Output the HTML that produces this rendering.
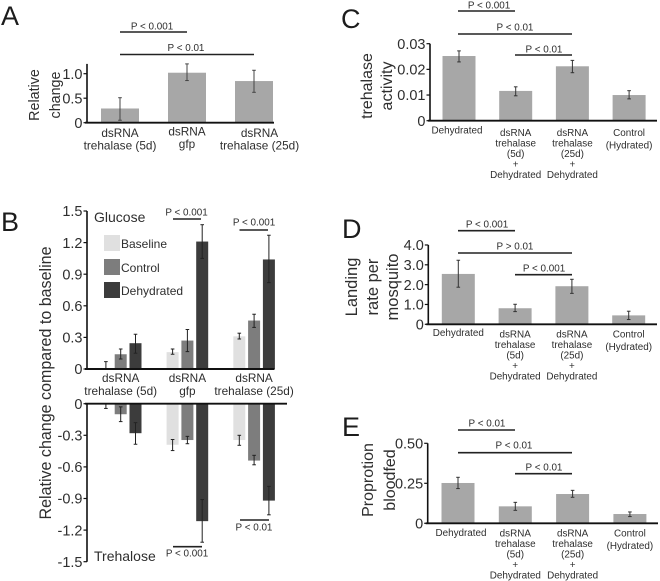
<!DOCTYPE html>
<html lang="en">
<head>
<meta charset="utf-8">
<title>Trehalase figure</title>
<style>
html,body{margin:0;padding:0;background:#fff;}
svg{display:block;filter:blur(0.3px);}
text{font-family:"Liberation Sans",sans-serif;fill:#2e2e2e;}
.letter{font-size:27px;fill:#1c1c1c;}
.title{font-size:16.5px;text-anchor:middle;}
.sig{font-size:9.9px;text-anchor:middle;}
.leg{font-size:12px;}
.sub{font-size:14px;}
</style>
</head>
<body>
<svg id="fig" xmlns="http://www.w3.org/2000/svg" width="660" height="581" viewBox="0 0 660 581">
<rect x="0" y="0" width="660" height="581" fill="#fff"/>
<g>
<text class="letter" x="1" y="25">A</text>
<text class="letter" x="1" y="231">B</text>
<text class="letter" x="341" y="28">C</text>
<text class="letter" x="342" y="238">D</text>
<text class="letter" x="342" y="436">E</text>
</g>
<g>
<text class="title" style="font-size:14.3px" transform="translate(39,95) rotate(-90)">Relative</text>
<text class="title" style="font-size:14.3px" transform="translate(60,95) rotate(-90)">change</text>
<text class="title" textLength="273" lengthAdjust="spacingAndGlyphs" style="font-size:16.5px" transform="translate(51,383) rotate(-90)">Relative change compared to baseline</text>
<text class="title" style="font-size:16px" transform="translate(372,86) rotate(-90)">trehalase</text>
<text class="title" style="font-size:16px" transform="translate(392,86) rotate(-90)">activity</text>
<text class="title" transform="translate(357,287) rotate(-90)">Landing</text>
<text class="title" transform="translate(378,287) rotate(-90)">rate per</text>
<text class="title" transform="translate(398,287) rotate(-90)">mosquito</text>
<text class="title" style="font-size:16px" transform="translate(373,480) rotate(-90)">Proprotion</text>
<text class="title" style="font-size:16px" transform="translate(395,480) rotate(-90)">bloodfed</text>
</g>
<g>
<text class="sub" x="94" y="222">Glucose</text>
<text class="sub" x="94" y="561">Trehalose</text>
<rect x="104" y="235" width="16" height="16" fill="#e0e0e0"/>
<text class="leg" x="121" y="248">Baseline</text>
<rect x="104" y="259" width="16" height="16" fill="#7d7d7d"/>
<text class="leg" x="121" y="272">Control</text>
<rect x="104" y="282" width="16" height="16" fill="#3c3c3c"/>
<text class="leg" x="121" y="295">Dehydrated</text>
</g>
<g id="sig" stroke="none">
<line x1="120" x2="187" y1="32" y2="32" stroke="#222" stroke-width="1.6"/>
<text class="sig" x="152" y="29.5">P &lt; 0.001</text>
<line x1="120" x2="254" y1="54.5" y2="54.5" stroke="#222" stroke-width="1.6"/>
<text class="sig" x="186" y="51">P &lt; 0.01</text>
<line x1="173" x2="201" y1="219" y2="219" stroke="#222" stroke-width="1.6"/>
<text class="sig" x="186.5" y="215.5">P &lt; 0.001</text>
<line x1="239.500" x2="268" y1="230" y2="230" stroke="#222" stroke-width="1.6"/>
<text class="sig" x="254" y="225.500">P &lt; 0.001</text>
<line x1="173" x2="202" y1="546.700" y2="546.700" stroke="#222" stroke-width="1.6"/>
<text class="sig" x="187" y="556.500">P &lt; 0.001</text>
<line x1="240" x2="269" y1="520" y2="520" stroke="#222" stroke-width="1.6"/>
<text class="sig" x="254" y="530.500">P &lt; 0.01</text>
<line x1="458" x2="515" y1="11" y2="11" stroke="#222" stroke-width="1.6"/>
<text class="sig" x="489" y="8.5">P &lt; 0.001</text>
<line x1="458" x2="572" y1="34" y2="34" stroke="#222" stroke-width="1.6"/>
<text class="sig" x="515" y="30.5">P &lt; 0.01</text>
<line x1="515" x2="572" y1="55" y2="55" stroke="#222" stroke-width="1.6"/>
<text class="sig" x="544" y="52.5">P &lt; 0.01</text>
<line x1="458" x2="515" y1="230.700" y2="230.700" stroke="#222" stroke-width="1.6"/>
<text class="sig" x="487" y="227.500">P &lt; 0.001</text>
<line x1="458" x2="572" y1="253" y2="253" stroke="#222" stroke-width="1.6"/>
<text class="sig" x="515" y="249.500">P &gt; 0.01</text>
<line x1="515" x2="572" y1="274.700" y2="274.700" stroke="#222" stroke-width="1.6"/>
<text class="sig" x="544" y="271.500">P &lt; 0.001</text>
<line x1="458" x2="515" y1="430" y2="430" stroke="#222" stroke-width="1.6"/>
<text class="sig" x="487" y="426.500">P &lt; 0.01</text>
<line x1="458" x2="572" y1="452.700" y2="452.700" stroke="#222" stroke-width="1.6"/>
<text class="sig" x="514" y="448.500">P &lt; 0.01</text>
<line x1="515" x2="572" y1="473.700" y2="473.700" stroke="#222" stroke-width="1.6"/>
<text class="sig" x="544" y="470.500">P &lt; 0.01</text>
</g>
</svg>
<script>
// Panel A
const panelACategories = [["dsRNA","trehalase (5d)"],["dsRNA","gfp"],["dsRNA","trehalase (25d)"]];
const panelAValues = [0.29,1.02,0.85];
const panelAErrHigh = [0.51,1.2,1.07];
const panelAErrLow = [0.05,0.86,0.62];
const panelATicks = ["0","0.5","1.0"];
// Panel B
const panelBCategories = [["dsRNA","trehalase (5d)"],["dsRNA","gfp"],["dsRNA","trehalase (25d)"]];
const panelBSeries = ["baseline","control","dehydrated"];
const glucoseBaseline = [0,0.16,0.31];
const glucoseControl = [0.14,0.27,0.46];
const glucoseDehydrated = [0.245,1.21,1.04];
const glucoseBaselineHigh = [0.07,0.19,0.34];
const glucoseBaselineLow = [0,0.14,0.285];
const glucoseControlHigh = [0.19,0.375,0.52];
const glucoseControlLow = [0.095,0.165,0.395];
const glucoseDehydratedHigh = [0.33,1.37,1.27];
const glucoseDehydratedLow = [0.15,1.05,0.82];
const trehaloseBaseline = [0,-0.39,-0.345];
const trehaloseControl = [-0.1,-0.345,-0.54];
const trehaloseDehydrated = [-0.28,-1.115,-0.92];
const trehaloseBaselineHigh = [0,-0.34,-0.3];
const trehaloseBaselineLow = [-0.045,-0.445,-0.395];
const trehaloseControlHigh = [-0.03,-0.31,-0.49];
const trehaloseControlLow = [-0.17,-0.38,-0.58];
const trehaloseDehydratedHigh = [-0.18,-0.91,-0.785];
const trehaloseDehydratedLow = [-0.385,-1.315,-1.055];
const glucoseTicks = ["0","0.3","0.6","0.9","1.2","1.5"];
const trehaloseTicks = ["0","-0.3","-0.6","-0.9","-1.2","-1.5"];
// Panels C-E
const rightCategories = [["Dehydrated"],["dsRNA","trehalase","(5d)","+","Dehydrated"],["dsRNA","trehalase","(25d)","+","Dehydrated"],["Control","(Hydrated)"]];
const panelCValues = [0.0252,0.0116,0.0212,0.0100];
const panelCErrHigh = [0.0272,0.0132,0.0235,0.0117];
const panelCErrLow = [0.0229,0.0097,0.0187,0.0085];
const panelCTicks = ["0","0.01","0.02","0.03"];
const panelDValues = [2.54,0.81,1.92,0.45];
const panelDErrHigh = [3.23,1.01,2.27,0.66];
const panelDErrLow = [1.87,0.64,1.56,0.24];
const panelDTicks = ["0","1.0","2.0","3.0","4.0"];
const panelEValues = [0.252,0.106,0.183,0.058];
const panelEErrHigh = [0.2875,0.131,0.206,0.071];
const panelEErrLow = [0.217,0.081,0.1625,0.042];
const panelETicks = ["0","0.25","0.50"];

const NS = "http://www.w3.org/2000/svg";
const fig = document.getElementById("fig");

function mk(tag, geometry, name, parent) {
  const el = document.createElementNS(NS, tag);
  Object.keys(geometry).forEach(function (k) { el.setAttribute(k, geometry[k]); });
  
  
  (parent || fig).appendChild(el);
  return el;
}
function label(str, x, y, size, anchor, name, parent) {
  const el = mk("text", {x: x, y: y, "font-size": size, "text-anchor": anchor}, name, parent);
  el.textContent = str;
  return el;
}
function linearY(zero, pxPerUnit) {
  return function (v) { return zero - v * pxPerUnit; };
}
function drawYAxis(o) {
  const g = mk("g", {}, o.name + "-y-axis");
  mk("line", {x1: o.x, x2: o.x, y1: o.y(o.axisTop), y2: o.y(o.axisBottom), stroke: "#111", "stroke-width": 1.6}, o.name + "-y-axis-line", g);
  o.ticks.forEach(function (t) {
    const v = Number(t);
    mk("line", {x1: o.x - 3.5, x2: o.x, y1: o.y(v), y2: o.y(v), stroke: "#111", "stroke-width": 1.2}, o.name + "-y-tick", g);
    label(t, o.x - 4.5, o.y(v) + 5.2, o.tickSize, "end", o.name + "-y-tick-label", g);
  });
}
function drawXAxis(o) {
  mk("line", {x1: o.x - 2, x2: o.xEnd, y1: o.y(0), y2: o.y(0), stroke: "#111", "stroke-width": 1.9}, o.name + "-x-axis-line");
}
function drawBars(o) {
  const g = mk("g", {}, o.name + "-bars");
  o.values.forEach(function (v, i) {
    const cx = o.cx(i);
    const top = Math.min(o.y(v), o.y(0));
    const h = Math.abs(o.y(v) - o.y(0));
    mk("rect", {x: cx - o.barW / 2, y: top, width: o.barW, height: h, fill: o.fill}, o.name + "-bar-" + i, g);
    const hi = o.y(o.high[i]), lo = o.y(o.low[i]);
    mk("line", {x1: cx, x2: cx, y1: hi, y2: lo, stroke: o.err, "stroke-width": 1}, o.name + "-error-bar-" + i, g);
    mk("line", {x1: cx - 1.8, x2: cx + 1.8, y1: hi, y2: hi, stroke: o.err, "stroke-width": 1}, o.name + "-error-cap-high-" + i, g);
    mk("line", {x1: cx - 1.8, x2: cx + 1.8, y1: lo, y2: lo, stroke: o.err, "stroke-width": 1}, o.name + "-error-cap-low-" + i, g);
  });
}
function drawLabels(categories, xFor, baselineFor, size, name) {
  const g = mk("g", {}, name + "-category-labels");
  categories.forEach(function (lines, i) {
    lines.forEach(function (s, j) {
      label(s, xFor(i), baselineFor(i, j, lines.length), size, "middle", name + "-category-label", g);
    });
  });
}

/* ---------- Panel A ---------- */
(function () {
  const y = linearY(122.7, 49);
  const cx = function (i) { return 120 + i * 67; };
  drawBars({name: "panel-a", values: panelAValues, high: panelAErrHigh, low: panelAErrLow, y: y, cx: cx, barW: 38, fill: "#a7a7a7", err: "#444"});
  drawYAxis({name: "panel-a", x: 87, y: y, axisTop: 1.2, axisBottom: 0, ticks: panelATicks, tickSize: 14.5});
  drawXAxis({name: "panel-a", x: 87, xEnd: 274, y: y});
  drawLabels(panelACategories, function (i) { return cx(i) + (i === 2 ? 5.5 : 0); },
    function (i, j) { return (i === 1 ? 135.5 : 137) + j * 12.5; }, 11.8, "panel-a");
})();

/* ---------- Panel B ---------- */
(function () {
  const groupCx = function (g) { return 120.7 + g * 66.7; };
  const slot = function (s) { return (s - 1) * 14.8; };
  const fills = ["#e0e0e0", "#7d7d7d", "#3c3c3c"];
  const yG = linearY(369, 105.33);
  const yT = linearY(403.7, 105.33);
  const gVals = [glucoseBaseline, glucoseControl, glucoseDehydrated];
  const gHigh = [glucoseBaselineHigh, glucoseControlHigh, glucoseDehydratedHigh];
  const gLow = [glucoseBaselineLow, glucoseControlLow, glucoseDehydratedLow];
  const tVals = [trehaloseBaseline, trehaloseControl, trehaloseDehydrated];
  const tHigh = [trehaloseBaselineHigh, trehaloseControlHigh, trehaloseDehydratedHigh];
  const tLow = [trehaloseBaselineLow, trehaloseControlLow, trehaloseDehydratedLow];
  panelBSeries.forEach(function (series, s) {
    const cx = function (g) { return groupCx(g) + slot(s); };
    drawBars({name: "glucose-" + series, values: gVals[s], high: gHigh[s], low: gLow[s], y: yG, cx: cx, barW: 12, fill: fills[s], err: "#222"});
    drawBars({name: "trehalose-" + series, values: tVals[s], high: tHigh[s], low: tLow[s], y: yT, cx: cx, barW: 12, fill: fills[s], err: "#222"});
  });
  drawYAxis({name: "glucose", x: 87, y: yG, axisTop: 1.5, axisBottom: 0, ticks: glucoseTicks, tickSize: 14.5});
  drawYAxis({name: "trehalose", x: 87, y: yT, axisTop: 0, axisBottom: -1.5, ticks: trehaloseTicks, tickSize: 14.5});
  drawXAxis({name: "glucose", x: 87, xEnd: 274.5, y: yG});
  drawXAxis({name: "trehalose", x: 87, xEnd: 287, y: yT});
  drawLabels(panelBCategories, groupCx, function (i, j) { return 382 + j * 13; }, 11.8, "panel-b");
})();

/* ---------- Panels C, D, E ---------- */
function rightPanel(o) {
  const cx = function (i) { return o.x0 + i * o.step; };
  drawBars({name: o.name, values: o.values, high: o.high, low: o.low, y: o.y, cx: cx, barW: 33, fill: "#a7a7a7", err: "#333"});
  drawYAxis({name: o.name, x: o.axisX, y: o.y, axisTop: o.axisTop, axisBottom: 0, ticks: o.ticks, tickSize: 14.5});
  drawXAxis({name: o.name, x: o.axisX, xEnd: o.xEnd, y: o.y});
  drawLabels(rightCategories,
    function (i) { return cx(i) + (i === 0 ? o.firstNudge : 0); },
    function (i, j, n) {
      if (n === 1) return o.base0;
      if (n === 2) return o.base1 + j * 12.7;
      return o.base1 + j * 10.5;
    }, 9.9, o.name);
}
rightPanel({name: "panel-c", values: panelCValues, high: panelCErrHigh, low: panelCErrLow, ticks: panelCTicks,
  y: linearY(120.7, 2566.7), axisX: 430, axisTop: 0.03, xEnd: 657, x0: 459, step: 56.7, firstNudge: -2, base0: 133.5, base1: 136});
rightPanel({name: "panel-d", values: panelDValues, high: panelDErrHigh, low: panelDErrLow, ticks: panelDTicks,
  y: linearY(324.3, 19.83), axisX: 428.3, axisTop: 4, xEnd: 657, x0: 458.3, step: 56.8, firstNudge: 0, base0: 336, base1: 337.5});
rightPanel({name: "panel-e", values: panelEValues, high: panelEErrHigh, low: panelEErrLow, ticks: panelETicks,
  y: linearY(523.3, 160), axisX: 427.7, axisTop: 0.5, xEnd: 658, x0: 458, step: 57.3, firstNudge: 3, base0: 536, base1: 536.5});
</script>
</body>
</html>
